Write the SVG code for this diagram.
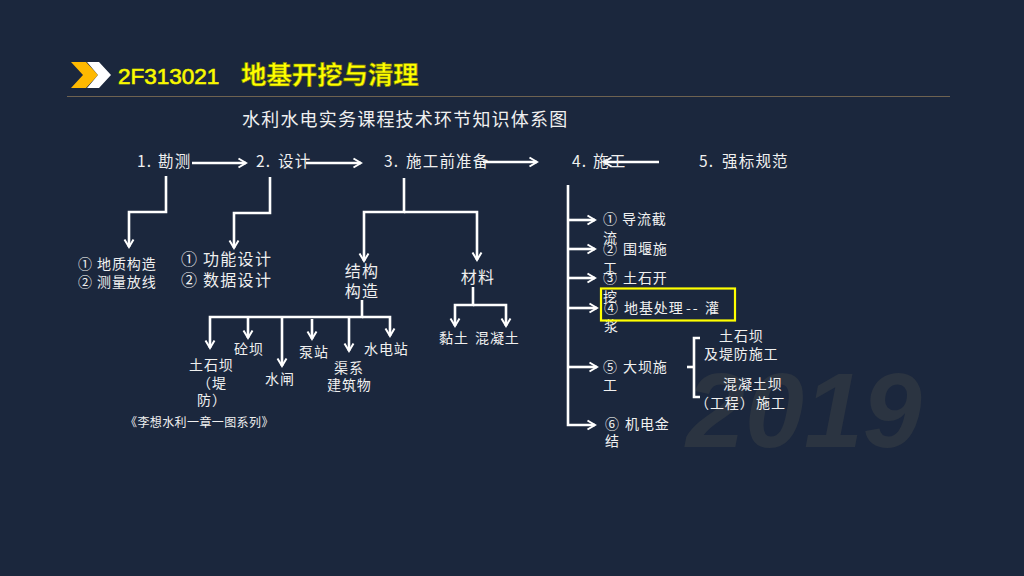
<svg xmlns="http://www.w3.org/2000/svg" width="1024" height="576" viewBox="0 0 1024 576">
<style>
text{font-family:"Noto Sans CJK SC","Liberation Sans",sans-serif;fill:#f0f0f0}
.s15{font-size:15.500px;letter-spacing:1.200px}.s14{font-size:14px;letter-spacing:.9px}.s16{font-size:16px;letter-spacing:1.300px}.s12{font-size:12px;letter-spacing:.400px}
.m{text-anchor:middle}
.l{fill:none;stroke:#fff;stroke-width:2.600}
</style>
<defs>
<marker id="ah" markerUnits="userSpaceOnUse" markerWidth="12" markerHeight="14" refX="9" refY="6" orient="auto" viewBox="0 0 12 12"><path d="M1.500 1.500L9 6L1.500 10.500" fill="none" stroke="#fff" stroke-width="2"/></marker>
</defs>
<rect width="1024" height="576" fill="#1b273d"/>
<text id="watermark" x="686" y="447" style="font-family:'Liberation Sans',sans-serif;font-size:106px;font-style:italic;font-weight:700;fill:#2b3441;letter-spacing:0">2019</text>
<g id="header">
<path d="M71 62H86L98 75L86 88H71L83 75Z" fill="#ffb900"/>
<path d="M87 62H99L111 75L99 88H87L98 75Z" fill="#fff"/>
<text x="118" y="84" style="font-family:'Liberation Sans',sans-serif;font-size:22.500px;fill:#ffff00;stroke:#eeee00;stroke-width:.7">2F313021</text>
<text x="241" y="84" style="font-size:25.400px;font-weight:700;fill:#ffff00;stroke:#8a8a00;stroke-width:.6">地基开挖与清理</text>
<rect x="67" y="96" width="883" height="1" fill="#6e6251"/>
</g>
<text id="title" x="242" y="126" style="font-size:18px;letter-spacing:1.200px">水利水电实务课程技术环节知识体系图</text>
<g id="connectors">
<path class="l" d="M192 163H246" marker-end="url(#ah)"/>
<path class="l" d="M306 163H361" marker-end="url(#ah)"/>
<path class="l" d="M483 162H537" marker-end="url(#ah)"/>
<path class="l" d="M659 162H604" marker-end="url(#ah)"/>
<path class="l" d="M166 176V212H129V247" marker-end="url(#ah)"/>
<path class="l" d="M270 177V213H234V248" marker-end="url(#ah)"/>
<path class="l" d="M404 178V212H364V261" marker-end="url(#ah)"/>
<path class="l" d="M404 212H477V260" marker-end="url(#ah)"/>
<path class="l" d="M362 300V317H210V348" marker-end="url(#ah)"/>
<path class="l" d="M248 317V338" marker-end="url(#ah)"/>
<path class="l" d="M282 318V366" marker-end="url(#ah)"/>
<path class="l" d="M312 319V339" marker-end="url(#ah)"/>
<path class="l" d="M349 318V351" marker-end="url(#ah)"/>
<path class="l" d="M362 317H390V336" marker-end="url(#ah)"/>
<path class="l" d="M473 287V305H455V326" marker-end="url(#ah)"/>
<path class="l" d="M473 305H506V326" marker-end="url(#ah)"/>
<path class="l" d="M568 185V425H595" marker-end="url(#ah)"/>
<path class="l" d="M568 220H595" marker-end="url(#ah)"/>
<path class="l" d="M568 249H595" marker-end="url(#ah)"/>
<path class="l" d="M568 278H595" marker-end="url(#ah)"/>
<path class="l" d="M568 308H597" marker-end="url(#ah)"/>
<path class="l" d="M568 367H597" marker-end="url(#ah)"/>
<path class="l" d="M700 338H694V397H700"/>
<path class="l" d="M687 367H694"/>
</g>
<g id="n1"><text class="s15" x="137" y="167">1.<tspan x="158">勘测</tspan></text></g>
<g id="n2"><text class="s15" x="256" y="167">2.<tspan x="278">设计</tspan></text></g>
<g id="n3"><text class="s15" x="384" y="167">3.<tspan x="406">施工前准备</tspan></text></g>
<g id="n4"><text class="s15" x="572" y="167">4.<tspan x="593">施工</tspan></text></g>
<g id="n5"><text class="s15" x="699" y="167">5.<tspan x="722">强标规范</tspan></text></g>
<g id="n1a"><text class="s14" x="78" y="269">①<tspan x="97">地质构造</tspan></text><text class="s14" x="78" y="287">②<tspan x="97">测量放线</tspan></text></g>
<g id="n2a"><text class="s16" x="181" y="265">①<tspan x="203">功能设计</tspan></text><text class="s16" x="181" y="286">②<tspan x="203">数据设计</tspan></text></g>
<g id="n-jg"><text class="s16 m" x="362" y="277">结构</text><text class="s16 m" x="362" y="297">构造</text></g>
<g id="n-cl"><text class="s16 m" x="478" y="283">材料</text></g>
<g id="n-nt"><text class="s14" x="439" y="343">黏土</text><text class="s14" x="475" y="343">混凝土</text></g>
<g id="n-tsb"><text class="s14" x="189" y="370">土石坝</text><text class="s14" x="197" y="388">（堤</text><text class="s14" x="197" y="405">防）</text></g>
<g id="n-tb"><text class="s14" x="234" y="354">砼坝</text></g>
<g id="n-sz"><text class="s14" x="265" y="384">水闸</text></g>
<g id="n-bz"><text class="s14" x="299" y="357">泵站</text></g>
<g id="n-qx"><text class="s14" x="334" y="373">渠系</text><text class="s14" x="327" y="390">建筑物</text></g>
<g id="n-sdz"><text class="s14" x="364" y="354">水电站</text></g>
<g id="n-note"><text class="s12" x="125" y="427">《李想水利一章一图系列》</text></g>
<g id="c1"><text class="s14" x="603" y="224">①<tspan x="622">导流截</tspan></text><text class="s14" x="603" y="243">流</text></g>
<g id="c2"><text class="s14" x="603" y="254">②<tspan x="623">围堰施</tspan></text><text class="s14" x="603" y="273">工</text></g>
<g id="c3"><text class="s14" x="603" y="283">③<tspan x="623">土石开</tspan></text><text class="s14" x="603" y="302">挖</text></g>
<g id="c4"><text class="s14" x="604" y="313">④<tspan x="624">地基处理</tspan><tspan x="686" style="letter-spacing:2px">--</tspan><tspan x="705">灌</tspan></text><text class="s14" x="604" y="331">浆</text><rect x="601" y="288.500" width="134" height="32" fill="none" stroke="#ffff00" stroke-width="2.200"/></g>
<g id="c5"><text class="s14" x="603" y="372">⑤<tspan x="623">大坝施</tspan></text><text class="s14" x="603" y="390">工</text></g>
<g id="c6"><text class="s14" x="605" y="429">⑥<tspan x="625">机电金</tspan></text><text class="s14" x="605" y="446">结</text></g>
<g id="d1"><text class="s14" x="719" y="341">土石坝</text><text class="s14" x="704" y="359">及堤防施工</text></g>
<g id="d2"><text class="s14" x="723" y="389">混凝土坝</text><text class="s14" x="695" y="408">（工程）<tspan x="756">施工</tspan></text></g>
</svg>
